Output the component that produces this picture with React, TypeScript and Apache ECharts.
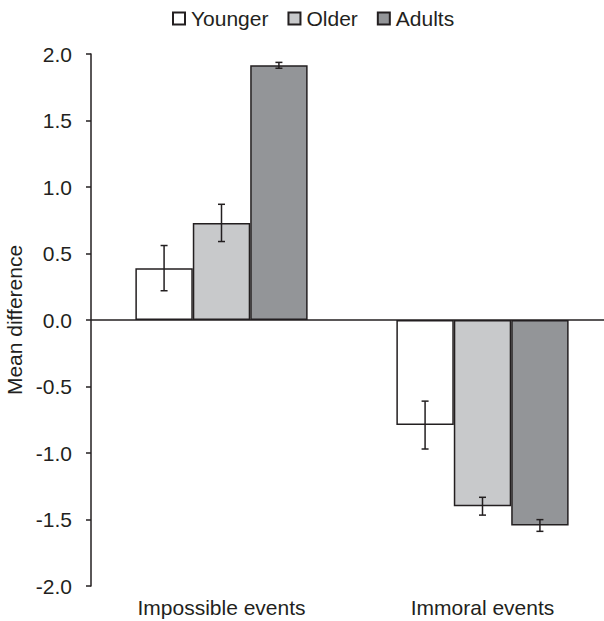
import React, { useEffect, useRef } from "react";
import * as echarts from "echarts";

const categories = ["Impossible events", "Immoral events"];
const groupNames = ["Younger", "Older", "Adults"];
const youngerValues = [0.39, -0.79];
const youngerErrors = [0.17, 0.18];
const olderValues = [0.73, -1.4];
const olderErrors = [0.14, 0.067];
const adultsValues = [1.915, -1.545];
const adultsErrors = [0.022, 0.044];
const yTicks = { min: -2, max: 2, interval: 0.5 };

const FONT = "Arial, 'Liberation Sans', Helvetica, sans-serif";
const INK = "#231f20";
const fills = ["#ffffff", "#c8c9cb", "#939598"];

export default function App() {
  const ref = useRef<HTMLDivElement>(null);
  useEffect(() => {
    document.body.style.margin = "0";
    if (!ref.current) return;
    const chart = echarts.init(ref.current, null, { renderer: "svg" });
    const values = [youngerValues, olderValues, adultsValues];
    const errors = [youngerErrors, olderErrors, adultsErrors];
    const errData: number[][] = [];
    values.forEach((vals, s) => {
      vals.forEach((v, c) => {
        errData.push([c, v, errors[s][c], s]);
      });
    });
    const barPct = 0.22;
    const barSeries = groupNames.map((name, i) => ({
      name,
      type: "bar",
      data: values[i],
      barWidth: "22%",
      barGap: "0%",
      itemStyle: { color: fills[i], borderColor: INK, borderWidth: 1.5 },
      ...(i === 0
        ? {
            markLine: {
              silent: true,
              symbol: ["none", "none"],
              label: { show: false },
              lineStyle: { color: INK, width: 1.5, type: "solid" },
              data: [{ yAxis: 0 }],
            },
          }
        : {}),
    }));
    chart.setOption({
      animation: false,
      textStyle: { fontFamily: FONT },
      legend: {
        data: groupNames,
        top: 3,
        left: 167,
        itemWidth: 12,
        itemHeight: 12,
        itemGap: 19,
        icon: "rect",
        textStyle: { fontFamily: FONT, fontSize: 21, color: INK, padding: [0, 0, 0, 1] },
      },
      grid: {
        left: 91,
        width: 522,
        top: 54,
        bottom: 35,
        containLabel: false,
        outerBoundsMode: "none",
      },
      xAxis: {
        type: "category",
        data: categories,
        axisLine: { show: false, onZero: false },
        axisTick: { show: false },
        axisLabel: { fontFamily: FONT, fontSize: 21, color: INK, margin: 11 },
      },
      yAxis: {
        type: "value",
        min: yTicks.min,
        max: yTicks.max,
        interval: yTicks.interval,
        name: "Mean difference",
        nameLocation: "middle",
        nameGap: 66,
        nameTextStyle: { fontFamily: FONT, fontSize: 21, color: INK },
        axisLine: { show: true, lineStyle: { color: INK, width: 1.5 } },
        axisTick: { show: true, length: 5, lineStyle: { color: INK, width: 1.5 } },
        axisLabel: {
          fontFamily: FONT,
          fontSize: 21,
          color: INK,
          margin: 19,
          formatter: (v: number) => v.toFixed(1),
        },
        splitLine: { show: false },
      },
      series: [
        ...barSeries,
        {
          name: "errors",
          type: "custom",
          data: errData,
          z: 10,
          renderItem: (params: any, api: any) => {
            const c = api.value(0);
            const v = api.value(1);
            const e = api.value(2);
            const s = api.value(3);
            const band = api.size([1, 0])[0];
            const bw = band * barPct;
            const center = api.coord([c, v]);
            const x = center[0] + (s - 1) * bw;
            const top = api.coord([c, v + e])[1];
            const bot = api.coord([c, v - e])[1];
            const cap = 3.5;
            const style = { stroke: INK, lineWidth: 1.5 };
            return {
              type: "group",
              children: [
                { type: "line", shape: { x1: x, y1: top, x2: x, y2: bot }, style },
                { type: "line", shape: { x1: x - cap, y1: top, x2: x + cap, y2: top }, style },
                { type: "line", shape: { x1: x - cap, y1: bot, x2: x + cap, y2: bot }, style },
              ],
            };
          },
        },
      ],
    });
    return () => chart.dispose();
  }, []);
  return <div ref={ref} style={{ width: 604, height: 621 }} />;
}
